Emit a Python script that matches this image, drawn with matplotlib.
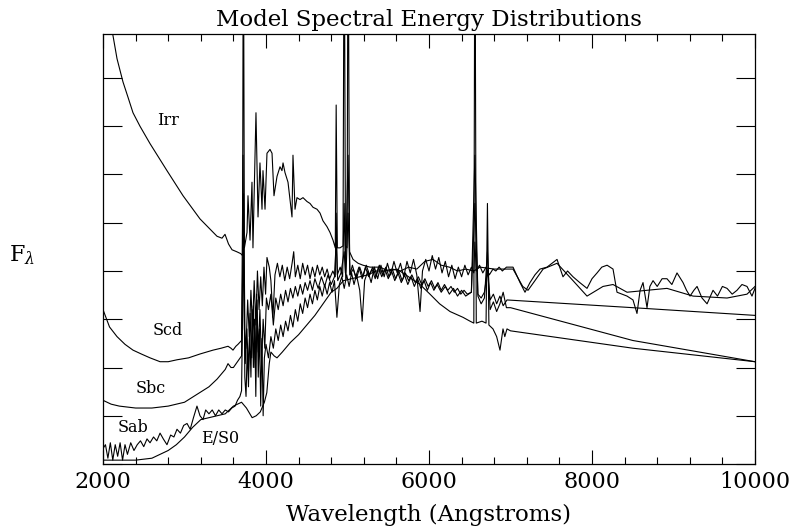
import matplotlib
matplotlib.use("Agg")
import matplotlib.pyplot as plt
from matplotlib.ticker import MultipleLocator, NullFormatter

plt.rcParams['font.family'] = ['DejaVu Serif']
plt.rcParams['mathtext.fontset'] = 'dejavuserif'

# ---------------- data (wavelength in Angstroms, normalized F_lambda) -------------
irr_wave = [2000, 2110, 2172, 2245, 2307, 2368, 2454, 2577, 2785, 2982, 3190, 3399, 3460, 3497,
            3540, 3583, 3640, 3690, 3712, 3722, 3735, 3767, 3779, 3804, 3828, 3840, 3877, 3902,
            3926, 3951, 3963, 3988, 4012, 4049, 4074, 4098, 4135, 4172, 4196, 4209, 4233, 4270,
            4319, 4331, 4356, 4380, 4417, 4454, 4503, 4540, 4577, 4626, 4663, 4699, 4748, 4785,
            4822, 4850, 4861, 4875, 4908, 4945, 4959, 4975, 4995, 5007, 5025, 5068, 5130, 5190,
            5276, 5400, 5500, 5607, 5750, 5890, 6012, 6130, 6258, 6417, 6503, 6550, 6563, 6580,
            6650, 6700, 6717, 6735, 6785, 6830, 6871, 6908, 6930, 6957, 7000, 8500, 10000]
irr_flux = [2.53, 2.25, 2.10, 1.98, 1.90, 1.82, 1.75, 1.66, 1.52, 1.39, 1.27, 1.18, 1.17, 1.19,
            1.14, 1.11, 1.10, 1.09, 1.08, 3.00, 1.12, 1.20, 1.39, 1.16, 1.46, 1.12, 1.82, 1.28,
            1.56, 1.32, 1.52, 1.32, 1.61, 1.63, 1.61, 1.39, 1.49, 1.54, 1.52, 1.56, 1.51, 1.46,
            1.28, 1.60, 1.32, 1.38, 1.37, 1.38, 1.36, 1.35, 1.33, 1.32, 1.30, 1.26, 1.23, 1.20,
            1.16, 1.12, 1.86, 1.12, 1.12, 1.13, 3.00, 1.13, 1.12, 3.00, 1.10, 1.06, 1.04, 1.03,
            1.02, 1.02, 1.00, 1.01, 0.97, 0.93, 0.88, 0.83, 0.79, 0.76, 0.74, 0.73, 3.00, 0.73,
            0.74, 0.73, 1.35, 0.72, 0.70, 0.66, 0.59, 0.70, 0.66, 0.70, 0.69, 0.60, 0.53]

scd_wave = [2000, 2080, 2172, 2270, 2368, 2470, 2577, 2700, 2800, 2908, 3050, 3190, 3350, 3450,
            3534, 3570, 3595, 3630, 3656, 3700, 3718, 3735, 3755, 3775, 3795, 3815, 3835, 3855,
            3875, 3895, 3915, 3935, 3955, 3975, 3995, 4012, 4040, 4060, 4085, 4110, 4140, 4170,
            4200, 4230, 4260, 4290, 4320, 4340, 4360, 4390, 4420, 4450, 4480, 4510, 4540, 4570,
            4600, 4630, 4660, 4690, 4720, 4750, 4780, 4820, 4850, 4861, 4875, 4910, 4940, 4959,
            4975, 5007, 5030, 5060, 5100, 5140, 5180, 5220, 5260, 5300, 5340, 5380, 5420, 5460,
            5500, 5540, 5580, 5620, 5660, 5700, 5740, 5780, 5820, 5860, 5900, 5940, 5980, 6020,
            6060, 6100, 6150, 6200, 6250, 6300, 6350, 6400, 6450, 6520, 6563, 6600, 6640, 6680,
            6717, 6750, 6790, 6830, 6870, 6910, 6950, 7000, 8500, 10000]
scd_flux = [0.80, 0.71, 0.66, 0.62, 0.59, 0.57, 0.55, 0.53, 0.53, 0.54, 0.55, 0.57, 0.59, 0.60,
            0.61, 0.60, 0.59, 0.61, 0.62, 0.64, 1.60, 0.70, 0.60, 0.85, 0.66, 0.90, 0.70, 0.95,
            0.72, 1.00, 0.80, 0.97, 0.82, 1.02, 0.88, 1.07, 1.02, 0.95, 0.76, 0.98, 1.04, 0.97,
            1.03, 0.95, 1.02, 0.96, 1.04, 1.10, 0.97, 1.03, 0.96, 1.04, 0.98, 1.03, 0.96, 1.02,
            0.97, 1.03, 0.98, 1.02, 0.97, 1.01, 0.96, 1.00, 0.97, 1.30, 0.98, 1.02, 0.97, 1.35,
            0.99, 1.60, 0.98, 1.03, 0.97, 1.02, 0.96, 1.02, 0.97, 1.01, 0.96, 1.02, 0.97, 1.01,
            0.96, 1.00, 0.95, 0.99, 0.94, 0.98, 0.93, 0.97, 0.92, 0.96, 0.91, 0.95, 0.90, 0.94,
            0.90, 0.93, 0.89, 0.92, 0.88, 0.91, 0.87, 0.90, 0.87, 0.89, 1.60, 0.87, 0.83, 0.86,
            1.10, 0.80, 0.84, 0.79, 0.83, 0.89, 0.81, 0.81, 0.64, 0.53]

sbc_wave = [2000, 2100, 2200, 2400, 2600, 2800, 3000, 3150, 3300, 3400, 3500, 3534, 3570, 3600,
            3650, 3700, 3725, 3745, 3765, 3785, 3805, 3825, 3845, 3865, 3885, 3905, 3925, 3945,
            3965, 3985, 4005, 4030, 4060, 4090, 4120, 4150, 4180, 4210, 4240, 4270, 4300, 4330,
            4360, 4390, 4420, 4450, 4480, 4510, 4540, 4570, 4600, 4640, 4680, 4720, 4760, 4800,
            4840, 4861, 4880, 4920, 4959, 4980, 5007, 5030, 5070, 5110, 5150, 5190, 5230, 5270,
            5310, 5350, 5390, 5430, 5470, 5510, 5550, 5590, 5630, 5670, 5710, 5750, 5790, 5830,
            5870, 5910, 5950, 5990, 6030, 6070, 6110, 6150, 6190, 6230, 6270, 6310, 6350, 6390,
            6430, 6470, 6520, 6563, 6600, 6640, 6680, 6717, 6750, 6790, 6830, 6870, 6910, 6957,
            8500, 10000]
sbc_flux = [0.33, 0.31, 0.30, 0.29, 0.29, 0.30, 0.32, 0.36, 0.40, 0.44, 0.49, 0.52, 0.50, 0.50,
            0.53, 0.56, 1.40, 0.52, 0.70, 0.48, 0.78, 0.55, 0.82, 0.50, 0.88, 0.58, 0.80, 0.52,
            0.75, 0.60, 0.86, 0.80, 0.88, 0.72, 0.86, 0.80, 0.88, 0.82, 0.90, 0.84, 0.91, 0.86,
            0.92, 0.87, 0.93, 0.88, 0.94, 0.90, 0.95, 0.90, 0.96, 0.91, 0.97, 0.92, 0.98, 0.93,
            0.97, 1.15, 0.95, 0.99, 1.10, 0.96, 1.30, 0.98, 1.01, 0.96, 1.02, 0.97, 1.03, 0.98,
            1.02, 0.97, 1.03, 0.98, 1.02, 0.97, 1.01, 0.96, 1.00, 0.95, 0.99, 0.95, 0.98, 0.94,
            0.97, 0.93, 0.96, 0.92, 0.95, 0.91, 0.94, 0.90, 0.93, 0.90, 0.92, 0.89, 0.91, 0.88,
            0.90, 0.88, 0.89, 1.35, 0.88, 0.86, 0.89, 1.00, 0.85, 0.88, 0.83, 0.87, 0.82, 0.85,
            0.81, 0.77]

sab_wave = [2000, 2030, 2060, 2090, 2120, 2150, 2180, 2210, 2240, 2270, 2300, 2340, 2380, 2420,
            2460, 2500, 2540, 2577, 2620, 2660, 2700, 2740, 2785, 2830, 2870, 2908, 2950, 2990,
            3031, 3070, 3110, 3153, 3190, 3227, 3260, 3300, 3340, 3380, 3420, 3460, 3500, 3540,
            3580, 3620, 3650, 3680, 3700, 3727, 3740, 3755, 3770, 3785, 3800, 3815, 3830, 3845,
            3860, 3875, 3890, 3905, 3920, 3935, 3950, 3965, 3980, 4000, 4030, 4060, 4090, 4120,
            4150, 4180, 4210, 4240, 4270, 4300, 4330, 4360, 4390, 4420, 4450, 4480, 4510, 4540,
            4570, 4600, 4630, 4660, 4690, 4720, 4750, 4780, 4810, 4840, 4870, 4900, 4930, 4960,
            4990, 5020, 5050, 5080, 5110, 5150, 5180, 5210, 5250, 5290, 5330, 5370, 5410, 5450,
            5490, 5530, 5570, 5610, 5650, 5690, 5730, 5770, 5810, 5850, 5890, 5920, 5960, 6000,
            6040, 6080, 6120, 6160, 6200, 6240, 6280, 6320, 6360, 6400, 6440, 6480, 6520, 6550,
            6563, 6580, 6620, 6660, 6700, 6740, 6785, 6820, 6860, 6900, 6950, 7031, 7117, 7178,
            7239, 7300, 7362, 7448, 7510, 7571, 7644, 7700, 7767, 7850, 7939, 8000, 8062, 8120,
            8185, 8258, 8307, 8370, 8430, 8503, 8552, 8590, 8626, 8675, 8710, 8749, 8800, 8860,
            8920, 8980, 9043, 9117, 9160, 9203, 9250, 9289, 9350, 9412, 9485, 9540, 9600, 9657,
            9720, 9779, 9840, 9902, 9963, 10000]
sab_flux = [0.08, 0.10, 0.03, 0.11, 0.02, 0.10, 0.04, 0.11, 0.02, 0.10, 0.05, 0.11, 0.07, 0.10,
            0.12, 0.09, 0.13, 0.11, 0.14, 0.12, 0.16, 0.13, 0.10, 0.15, 0.14, 0.18, 0.16, 0.20,
            0.21, 0.18, 0.24, 0.30, 0.25, 0.23, 0.28, 0.26, 0.28, 0.25, 0.28, 0.26, 0.28, 0.27,
            0.29, 0.30, 0.33, 0.35, 0.38, 1.20, 0.45, 0.35, 0.60, 0.40, 0.70, 0.45, 0.80, 0.50,
            0.75, 0.35, 0.85, 0.45, 0.70, 0.30, 0.65, 0.25, 0.55, 0.62, 0.55, 0.66, 0.60, 0.70,
            0.64, 0.72, 0.66, 0.74, 0.69, 0.77, 0.71, 0.80, 0.74, 0.83, 0.78, 0.86, 0.81, 0.88,
            0.83, 0.90, 0.85, 0.92, 0.87, 0.93, 0.88, 0.94, 0.89, 0.95, 0.76, 0.93, 0.97, 0.91,
            0.98, 0.92, 0.99, 0.93, 0.98, 0.90, 0.74, 0.95, 1.00, 0.94, 1.02, 0.96, 1.03, 0.97,
            1.04, 0.98, 1.05, 0.99, 1.04, 0.97, 1.05, 0.99, 1.06, 0.98, 0.79, 1.00, 1.06, 1.00,
            1.08, 1.01, 1.07, 0.99, 1.05, 0.97, 1.03, 0.96, 1.02, 0.97, 1.03, 0.98, 1.02, 0.99,
            1.15, 1.00, 1.03, 0.99, 1.02, 0.98, 1.01, 1.00, 1.02, 1.00, 1.02, 1.02, 0.94, 0.89,
            0.94, 0.98, 1.01, 1.02, 1.04, 1.06, 0.97, 1.00, 0.97, 0.94, 0.91, 0.96, 0.99, 1.02,
            1.03, 1.01, 0.89, 0.88, 0.87, 0.85, 0.78, 0.90, 0.94, 0.81, 0.92, 0.95, 0.92, 0.96,
            0.96, 0.93, 0.99, 0.94, 0.90, 0.87, 0.90, 0.92, 0.86, 0.83, 0.90, 0.87, 0.92, 0.91,
            0.88, 0.90, 0.93, 0.92, 0.87, 0.91]

es0_wave = [2000, 2200, 2400, 2600, 2700, 2800, 2900, 3000, 3100, 3200, 3300, 3400, 3500, 3600,
            3700, 3760, 3830, 3880, 3930, 3980, 4010, 4040, 4060, 4100, 4135, 4200, 4300, 4400,
            4500, 4600, 4700, 4800, 4870, 4950, 5050, 5150, 5250, 5350, 5450, 5550, 5650, 5750,
            5850, 5950, 6050, 6150, 6250, 6350, 6450, 6550, 6626, 6800, 7031, 7150, 7215, 7300,
            7400, 7571, 7767, 7939, 8135, 8258, 8430, 8675, 8920, 9240, 9657, 9902, 10000]
es0_flux = [0.02, 0.02, 0.02, 0.03, 0.05, 0.07, 0.10, 0.14, 0.19, 0.23, 0.24, 0.25, 0.26, 0.30,
            0.32, 0.29, 0.24, 0.25, 0.27, 0.32, 0.37, 0.52, 0.58, 0.56, 0.55, 0.58, 0.63, 0.67,
            0.72, 0.77, 0.83, 0.89, 0.91, 0.95, 0.96, 0.97, 0.98, 1.00, 1.00, 1.01, 1.00, 1.02,
            1.01, 1.05, 1.06, 1.03, 1.02, 1.00, 1.01, 1.00, 1.02, 1.01, 1.01, 0.92, 0.90, 0.95,
            1.01, 1.04, 0.95, 0.87, 0.92, 0.93, 0.89, 0.90, 0.91, 0.87, 0.86, 0.88, 0.92]

labels = ["Irr", "Scd", "Sbc", "Sab", "E/S0"]
label_wave = [2800, 2790, 2580, 2368, 3440]
label_flux = [1.78, 0.69, 0.39, 0.19, 0.13]

# ---------------- figure -------------
fig = plt.figure(figsize=(7.95, 5.31), dpi=100)
ax = fig.add_axes([103 / 795, 1 - 464 / 531, (755 - 103) / 795, (464 - 34) / 531])

for w, f in [(irr_wave, irr_flux), (scd_wave, scd_flux), (sbc_wave, sbc_flux),
             (sab_wave, sab_flux), (es0_wave, es0_flux)]:
    ax.plot(w, f, color='black', lw=0.8)

for t, x, y in zip(labels, label_wave, label_flux):
    ax.text(x, y, t, ha='center', va='center', fontsize=11.5)

ax.set_xlim(2000, 10000)
ax.set_ylim(0, 430 / 193)
ax.xaxis.set_major_locator(MultipleLocator(2000))
ax.xaxis.set_minor_locator(MultipleLocator(400))
ax.yaxis.set_major_locator(MultipleLocator(0.25))
ax.yaxis.set_major_formatter(NullFormatter())
ax.tick_params(axis='both', which='both', direction='in', top=True, right=True, width=0.8)
ax.tick_params(axis='x', which='major', length=10, labelsize=16, pad=5)
ax.tick_params(axis='x', which='minor', length=5)
ax.tick_params(axis='y', which='major', length=14)
for s in ax.spines.values():
    s.set_linewidth(0.9)

fig.text(0.5 * (103 + 755) / 795, 1 - 20 / 531, "Model Spectral Energy Distributions",
         ha='center', va='center', fontsize=16.5)
fig.text(0.5 * (103 + 755) / 795, 1 - 515 / 531, "Wavelength (Angstroms)",
         ha='center', va='center', fontsize=16.5)
fig.text(22 / 795, 1 - 255 / 531, r"$\mathrm{F}_\lambda$", ha='center', va='center', fontsize=16)

fig.savefig("out.png", dpi=100)
